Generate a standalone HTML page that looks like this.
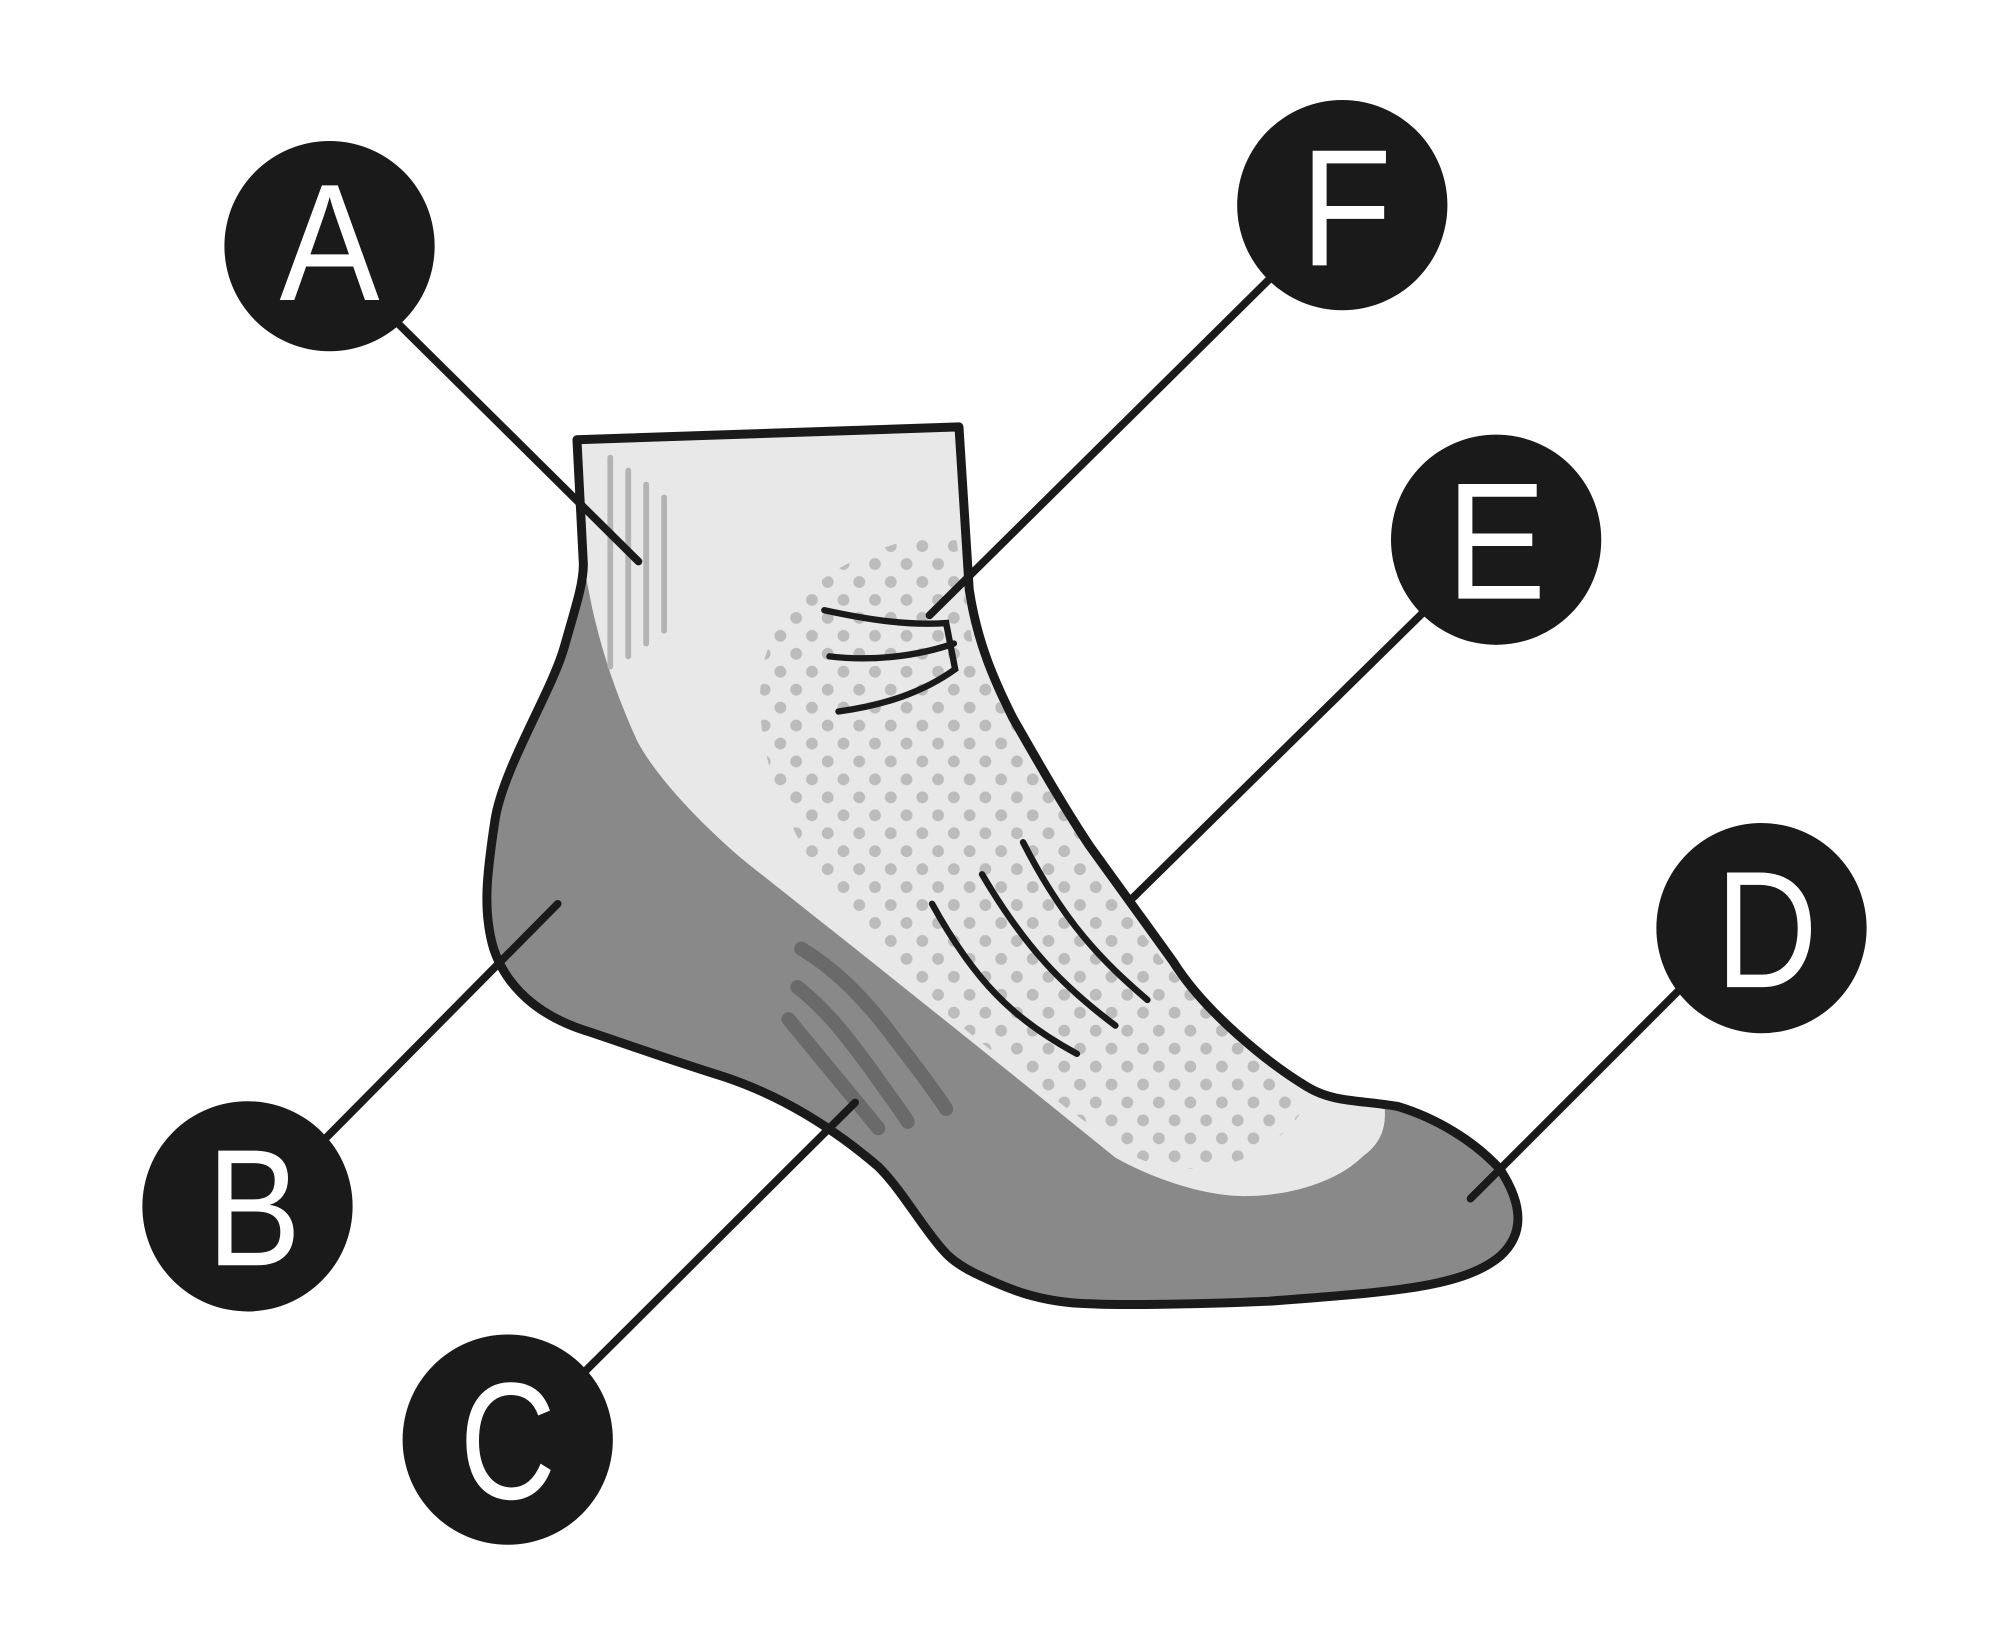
<!DOCTYPE html>
<html><head><style>html,body{margin:0;padding:0;background:#fff}svg{display:block}</style></head>
<body>
<svg width="2000" height="1644" viewBox="0 0 1560 1282.4" xmlns="http://www.w3.org/2000/svg">
<defs>
<pattern id="dots" width="24.6" height="28" patternUnits="userSpaceOnUse">
<circle cx="6" cy="6" r="4.6" fill="#bcbcbc"/><circle cx="18.3" cy="20" r="4.6" fill="#bcbcbc"/>
</pattern>
<clipPath id="dc"><path d="M745,415 C690,420 610,450 595,520 C585,580 610,640 650,700 C700,770 800,840 880,900 C930,925 990,910 1020,860 C980,820 930,780 900,740 C850,670 800,590 760,510 Z"/></clipPath>
</defs>
<path d="M450,343 L748,333 L756,460 C762,500 775,530 790,560 C810,595 830,630 850,660 L915,750 C940,790 990,830 1020,848 C1040,860 1060,858 1090,863 C1120,872 1150,890 1170,912 C1185,935 1192,960 1170,980 C1140,1005 1080,1008 990,1015 C920,1018 870,1018 850,1017 C810,1016 785,1005 760,993 C740,983 735,975 725,962 C710,942 700,925 685,910 C650,880 610,855 565,840 C520,826 490,815 460,805 C420,793 395,770 385,740 C376,710 380,680 386,640 C392,600 430,540 440,505 C450,470 455,455 455,440 Z" fill="#e8e8e8"/>
<rect x="0" y="0" width="1560" height="1282" fill="url(#dots)" clip-path="url(#dc)"/>
<path d="M462,475 C470,510 480,540 497,578 C515,612 560,655 585,675 C680,750 780,830 870,903 C900,920 940,933 970,933 C1010,933 1045,920 1063,902 C1080,890 1081,875 1080,863 L1090,863 C1120,872 1150,890 1170,912 C1185,935 1192,960 1170,980 C1140,1005 1080,1008 990,1015 C920,1018 870,1018 850,1017 C810,1016 785,1005 760,993 C740,983 735,975 725,962 C710,942 700,925 685,910 C650,880 610,855 565,840 C520,826 490,815 460,805 C420,793 395,770 385,740 C376,710 380,680 386,640 C392,600 430,540 440,505 C450,470 455,455 455,440 Z" fill="#898989"/>
<g stroke="#b3b3b3" stroke-width="4.5" stroke-linecap="round">
<line x1="476" y1="357" x2="476" y2="520"/><line x1="490" y1="367" x2="490" y2="512"/><line x1="504" y1="378" x2="504" y2="502"/><line x1="518" y1="388" x2="518" y2="492"/>
</g>
<g stroke="#6a6a6a" stroke-width="11" stroke-linecap="round" fill="none">
<path d="M625,740 C650,755 670,775 690,800 C705,820 725,845 738,865"/>
<path d="M622,770 C645,788 660,808 680,835 C690,850 700,862 708,875"/>
<path d="M615,795 C640,825 660,850 685,880"/>
</g>
<g stroke="#1a1a1a" stroke-width="5" stroke-linecap="round" fill="none">
<path d="M643,476 C680,484 710,488 738,486 L745,522 C720,540 690,550 654,555"/>
<path d="M647,512 C680,516 715,512 744,502"/>
<path d="M727,705 C760,765 790,795 840,822"/>
<path d="M766,682 C800,740 830,770 870,800"/>
<path d="M798,657 C830,720 860,750 895,780"/>
</g>
<path d="M450,343 L748,333 L756,460 C762,500 775,530 790,560 C810,595 830,630 850,660 L915,750 C940,790 990,830 1020,848 C1040,860 1060,858 1090,863 C1120,872 1150,890 1170,912 C1185,935 1192,960 1170,980 C1140,1005 1080,1008 990,1015 C920,1018 870,1018 850,1017 C810,1016 785,1005 760,993 C740,983 735,975 725,962 C710,942 700,925 685,910 C650,880 610,855 565,840 C520,826 490,815 460,805 C420,793 395,770 385,740 C376,710 380,680 386,640 C392,600 430,540 440,505 C450,470 455,455 455,440 Z" fill="none" stroke="#1a1a1a" stroke-width="7" stroke-linejoin="round"/>
<g stroke="#1a1a1a" stroke-width="6" stroke-linecap="round">
<line x1="300" y1="242" x2="498" y2="438"/>
<line x1="1000" y1="208" x2="725" y2="480"/>
<line x1="1120" y1="468" x2="884" y2="700"/>
<line x1="1320" y1="762" x2="1147" y2="935"/>
<line x1="245" y1="897" x2="435" y2="705"/>
<line x1="446" y1="1080" x2="667" y2="860"/>
</g>
<g fill="#1a1a1a">
<circle cx="257" cy="192" r="82"/><circle cx="1047" cy="160" r="82"/><circle cx="1167" cy="421" r="82"/>
<circle cx="1374" cy="724" r="82"/><circle cx="193" cy="941" r="82"/><circle cx="396" cy="1123" r="82"/>
</g>
<g fill="#fff" font-family="Liberation Sans, sans-serif" font-size="130" text-anchor="middle">
<text x="257" y="234" transform="translate(257 0) scale(0.9 1) translate(-257 0)">A</text>
<text x="1050" y="207" transform="translate(1050 0) scale(0.9 1) translate(-1050 0)">F</text>
<text x="1167" y="467" transform="translate(1167 0) scale(0.9 1) translate(-1167 0)">E</text>
<text x="1378" y="770" transform="translate(1378 0) scale(0.85 1) translate(-1378 0)">D</text>
<text x="198" y="987" transform="translate(198 0) scale(0.85 1) translate(-198 0)">B</text>
<text x="396" y="1169" transform="translate(396 0) scale(0.8 1) translate(-396 0)">C</text>
</g>
</svg>
</body></html>
